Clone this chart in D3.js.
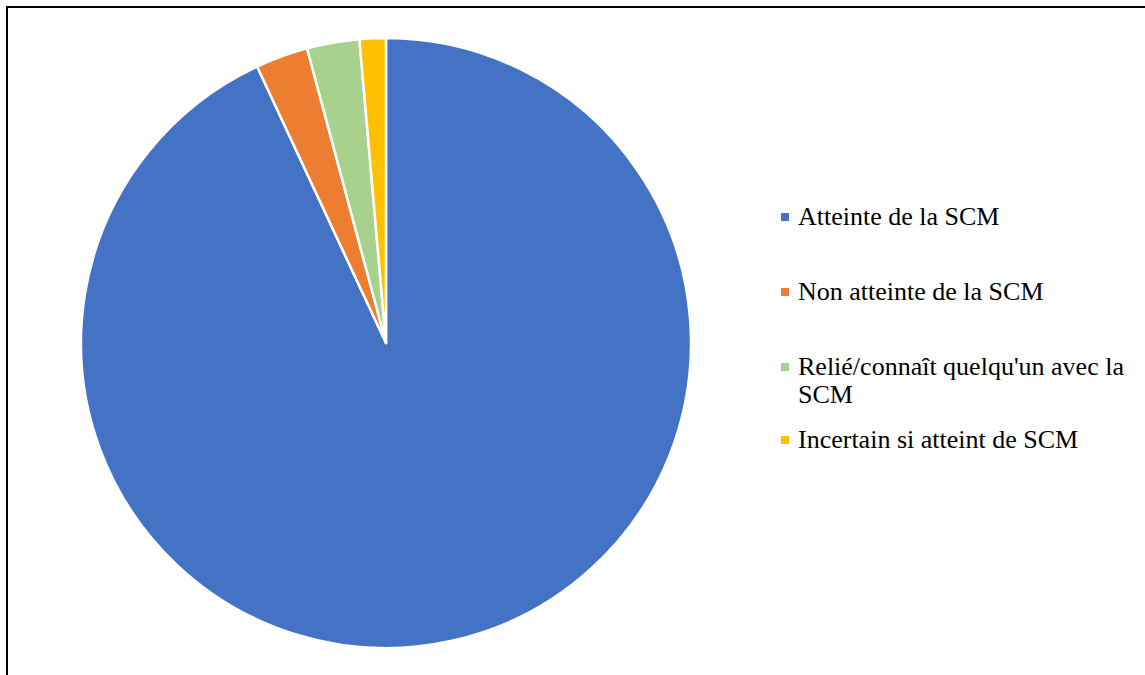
<!DOCTYPE html>
<html>
<head>
<meta charset="utf-8">
<script src="https://cdn.jsdelivr.net/npm/d3@7"></script>
<style>
  body { margin: 0; background: #fff; }
  svg { display: block; }
  .leg text { font-family: "Liberation Serif", "Times New Roman", "DejaVu Serif", serif; }
</style>
</head>
<body>
<div id="chart"></div>
<script>
// categories and values
const categories = ["Atteinte de la SCM", "Non atteinte de la SCM",
                    "Relié/connaît quelqu'un avec la SCM", "Incertain si atteint de SCM"];
const values = [67, 2, 2, 1];
const colors = ["#4472C4", "#ED7D31", "#A9D18E", "#FFC000"];

const W = 1145, H = 675;
const svg = d3.select("#chart").append("svg")
    .attr("width", W).attr("height", H);

// frame (only top and left edges are visible in the picture)
svg.append("rect")
    .attr("x", 7).attr("y", 7)
    .attr("width", W).attr("height", H)
    .attr("fill", "none").attr("stroke", "#000").attr("stroke-width", 2);

const cx = 386, cy = 343, r = 305;

const pie = d3.pie().sort(null).value(d => d.v);
const arc = d3.arc().innerRadius(0).outerRadius(r);
const data = categories.map((c, i) => ({ c: c, v: values[i], col: colors[i] }));

svg.append("g").attr("transform", "translate(" + cx + "," + cy + ")")
  .selectAll("path").data(pie(data)).enter().append("path")
    .attr("d", arc)
    .attr("fill", d => d.data.col)
    .attr("stroke", "#fff").attr("stroke-width", 2.5)
    .attr("stroke-linejoin", "round");

// legend
const legX = 781, fontSize = 26;
const rows = [
  { lines: ["Atteinte de la SCM"], y: 225 },
  { lines: ["Non atteinte de la SCM"], y: 300 },
  { lines: ["Relié/connaît quelqu'un avec la", "SCM"], y: 375 },
  { lines: ["Incertain si atteint de SCM"], y: 448 }
];
const leg = svg.append("g").attr("class", "leg");
rows.forEach(function(row, i) {
  leg.append("rect")
    .attr("x", legX).attr("y", row.y - 12)
    .attr("width", 8).attr("height", 8)
    .attr("fill", colors[i]);
  const t = leg.append("text")
    .attr("x", legX + 17).attr("y", row.y)
    .attr("font-size", fontSize).attr("fill", "#000");
  row.lines.forEach(function(l, j) {
    t.append("tspan").attr("x", legX + 17).attr("dy", j ? 28 : 0).text(l);
  });
});
</script>
</body>
</html>
